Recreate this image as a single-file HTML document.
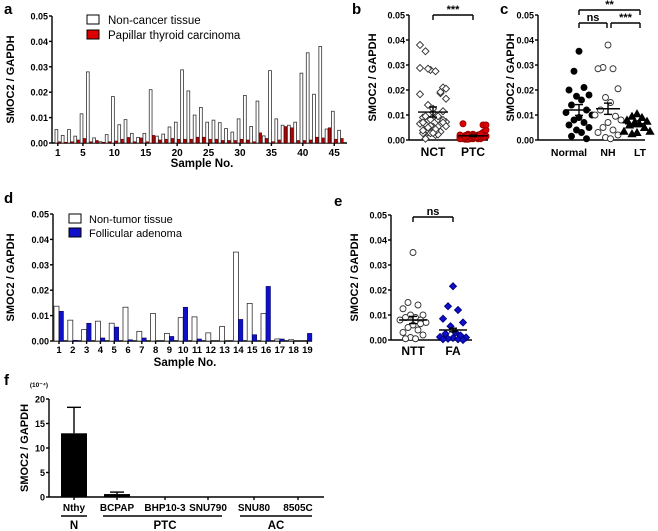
<!DOCTYPE html>
<html><head><meta charset="utf-8">
<style>
body{margin:0;background:#fff;}
svg{display:block;font-family:"Liberation Sans",Arial,sans-serif;font-weight:bold;}
</style></head>
<body>
<svg id="fig" width="658" height="531" viewBox="0 0 658 531" xmlns="http://www.w3.org/2000/svg"></svg>
<script>
// ---- data ----
const aNct=[.0053,.003,.0053,.0027,.0115,.028,.002,.0005,.0033,.0183,.0072,.0092,.0038,.0022,.0038,.021,.0027,.0035,.0063,.0082,.0288,.0205,.011,.014,.0082,.009,.008,.0057,.0043,.0095,.0187,.0065,.0165,.0028,.0285,.0095,.007,.007,.0082,.0275,.0355,.0192,.038,.0055,.0125,.005];
const aPtc=[.0005,.0003,.0005,.0012,.0018,.0005,.001,.0003,.0005,.0008,.0015,.0022,.0005,.002,.0005,.003,.0012,.0015,.0018,.0015,.0015,.0015,.0023,.0023,.0015,.0015,.001,.001,.001,.0015,.0012,.0005,.004,.0018,.0005,.0012,.0065,.006,.001,.001,.0012,.0023,.002,.006,.0015,.0018];
const aTicks=[1,5,10,15,20,25,30,35,40,45];
const yTicks=[0,0.01,0.02,0.03,0.04,0.05];
const cNormal=[.0355,.0275,.021,.02,.018,.0175,.016,.014,.012,.011,.01,.009,.008,.007,.006,.005,.004,.003,.0015,.0005];
const cNH=[.038,.029,.0285,.0285,.0205,.017,.015,.012,.0095,.01,.008,.007,.005,.004,.003,.002,.001,.0005];
const cLT=[.0105,.0095,.009,.008,.0075,.007,.0065,.006,.005,.0035,.0035,.003,.0025];
const cMeans=[.012,.0125,.0065];
const dNtt=[.0137,.0082,.0045,.0078,.007,.0133,.0038,.0108,.003,.0092,.0095,.0032,.0057,.035,.0148,.0108,.0008,.0005,0];
const dFa=[.0117,.0003,.007,.0012,.0055,.0005,.0012,0,.0018,.0133,.0008,0,0,.0085,.0025,.0215,.0008,0,.003];
const eNtt=[.035,.015,.014,.0125,.01,.01,.009,.009,.008,.008,.007,.006,.005,.004,.003,.002,.001,.0005,.0005,.0065];
const eFa=[.0215,.0135,.012,.0085,.007,.0055,.003,.0025,.0018,.0012,.001,.0008,.0005,.0003,.0003,0];
const eMeans=[.008,.004];
const fCats=["Nthy","BCPAP","BHP10-3","SNU790","SNU80","8505C"];
const fVals=[13,0.6,0,0,0,0];
const fErr=[5.3,0.4,0,0,0,0];
const fTicks=[0,5,10,15,20];

const S=document.getElementById('fig');
const NS="http://www.w3.org/2000/svg";
function el(t,a,txt){const e=document.createElementNS(NS,t);for(const k in a)e.setAttribute(k,a[k]);if(txt!==undefined)e.textContent=txt;S.appendChild(e);return e;}
function line(x1,y1,x2,y2,w){return el('line',{x1,y1,x2,y2,stroke:'#000','stroke-width':w||1.4});}
function txt(x,y,s,size,anchor,name){const t=el('text',{x,y,'font-size':size,'text-anchor':anchor||'middle'},s);return t;}
function yAxis(x,y0,y1,x2,ticks,max,fmt,title,tx){
  const sc=v=>y0-(v/max)*(y0-y1);
  line(x,y0,x,y1);line(x,y0,x2,y0);
  ticks.forEach(v=>{line(x-3,sc(v),x,sc(v));txt(x-4,sc(v)+3.5,fmt(v),9,'end','y-tick-label');});
  const t=el('text',{x:0,y:0,'font-size':11,'text-anchor':'middle',transform:`translate(${tx},${(y0+y1)/2}) rotate(-90)`},title);
  
  return sc;
}
function bracket(x1,x2,y,label){line(x1,y+5,x1,y);line(x1,y,x2,y);line(x2,y,x2,y+5);txt((x1+x2)/2,y-2,label,11,'middle','significance-label');}
const f2=v=>v.toFixed(2);

// ---- panel a ----
txt(4,14,'a',15,'start','panel-label-a');
{const sc=yAxis(52,143,16,347,yTicks,0.05,f2,'SMOC2 / GAPDH',14);
 const x0=55,step=(344-55)/aNct.length;
 aNct.forEach((v,i)=>{const r=el('rect',{x:x0+i*step,y:sc(v),width:2.8,height:143-sc(v),fill:'#fff',stroke:'#333','stroke-width':0.8});});
 aPtc.forEach((v,i)=>{const r=el('rect',{x:x0+i*step+3,y:sc(v),width:2.6,height:143-sc(v),fill:'#b00',stroke:'#400','stroke-width':0.5});});
 aTicks.forEach(t=>{const x=x0+(t-1)*step+2.8;line(x,143,x,146);txt(x,156,String(t),10,'middle','x-tick-label');});
 txt(202,167,'Sample No.',11.5,'middle','x-axis-title');
 const l1=el('rect',{x:87,y:15,width:12,height:9,fill:'#fff',stroke:'#000'});
 const t1=txt(108,24,'Non-cancer tissue',11.5,'start','legend-entry');t1.setAttribute('font-weight','normal');
 const l2=el('rect',{x:87,y:30,width:12,height:9,fill:'#d00',stroke:'#000'});
 const t2=txt(108,39,'Papillar thyroid carcinoma',11.5,'start','legend-entry');t2.setAttribute('font-weight','normal');
}
function jit(i){return [0,-5,5,-10,10,-2.5,2.5,-7.5,7.5,-13,13][i%11];}
function dots(arr,cx,sc,shape,fill,stroke,name){arr.forEach((v,i)=>{const x=cx+jit(i),y=sc(v);let e;
 if(shape==='c')e=el('circle',{cx:x,cy:y,r:3,fill,stroke,'stroke-width':0.9});
 else if(shape==='d')e=el('polygon',{points:`${x},${y-3.5} ${x+3.5},${y} ${x},${y+3.5} ${x-3.5},${y}`,fill,stroke,'stroke-width':0.9});
 else e=el('polygon',{points:`${x},${y-3.6} ${x+3.8},${y+3} ${x-3.8},${y+3}`,fill,stroke});
 });}
function meanBar(cx,sc,m,w){line(cx-w,sc(m),cx+w,sc(m));line(cx,sc(m*1.18),cx,sc(m*0.82));line(cx-4,sc(m*1.18),cx+4,sc(m*1.18));line(cx-4,sc(m*0.82),cx+4,sc(m*0.82));}
function mean(a){return a.reduce((s,v)=>s+v,0)/a.length;}
// ---- panel b ----
txt(352,14,'b',15,'start','panel-label-b');
{const sc=yAxis(409,140,15,488,yTicks,0.05,f2,'SMOC2 / GAPDH',376);
 dots(aNct,433,sc,'d','#fff','#333','point-nct');
 dots(aPtc,473,sc,'c','#d00','#900','point-ptc');
 meanBar(433,sc,mean(aNct),15);meanBar(473,sc,mean(aPtc),15);
 txt(433,156,'NCT',12,'middle','x-tick-label');txt(473,156,'PTC',12,'middle','x-tick-label');
 bracket(433,473,15,'***');}
// ---- panel c ----
txt(500,14,'c',15,'start','panel-label-c');
{const sc=yAxis(538,140,15,645,yTicks,0.05,f2,'SMOC2 / GAPDH',514);
 dots(cNormal,579,sc,'c','#000','#000','point-normal');
 dots(cNH,608,sc,'c','#fff','#333','point-nh');
 dots(cLT,637,sc,'t','#000','#000','point-lt');
 meanBar(579,sc,cMeans[0],12);meanBar(608,sc,cMeans[1],12);meanBar(637,sc,cMeans[2],12);
 txt(569,156,'Normal',10.5,'middle','x-tick-label');txt(608,156,'NH',10.5,'middle','x-tick-label');txt(640,156,'LT',10.5,'middle','x-tick-label');
 bracket(579,640,10,'**');bracket(579,607,23,'ns');bracket(611,640,23,'***');}
// ---- panel d ----
txt(4,203,'d',15,'start','panel-label-d');
{const sc=yAxis(53,341,214,312,yTicks,0.05,f2,'SMOC2 / GAPDH',14);
 const step=13.8,x0=59;
 dNtt.forEach((v,i)=>{const r=el('rect',{x:x0+i*step-5,y:sc(v),width:5,height:341-sc(v),fill:'#fff',stroke:'#333','stroke-width':0.8});});
 dFa.forEach((v,i)=>{const r=el('rect',{x:x0+i*step,y:sc(v),width:4.5,height:341-sc(v),fill:'#1010c8',stroke:'#000050','stroke-width':0.5});});
 dNtt.forEach((v,i)=>{const x=x0+i*step;line(x,341,x,344);txt(x,353,String(i+1),9.5,'middle','x-tick-label');});
 txt(185,366,'Sample No.',11.5,'middle','x-axis-title');
 const l1=el('rect',{x:69,y:214,width:12,height:9,fill:'#fff',stroke:'#000'});
 const t1=txt(89,223,'Non-tumor tissue',11,'start','legend-entry');t1.setAttribute('font-weight','normal');
 const l2=el('rect',{x:69,y:228,width:12,height:9,fill:'#1010c8',stroke:'#000'});
 const t2=txt(89,237,'Follicular adenoma',11,'start','legend-entry');t2.setAttribute('font-weight','normal');}
// ---- panel e ----
txt(334,206,'e',15,'start','panel-label-e');
{const sc=yAxis(391,340,215,472,yTicks,0.05,f2,'SMOC2 / GAPDH',358);
 dots(eNtt,413,sc,'c','#fff','#333','point-ntt');
 dots(eFa,453,sc,'d','#1010c8','#000080','point-fa');
 meanBar(413,sc,eMeans[0],14);meanBar(453,sc,eMeans[1],14);
 txt(413,355,'NTT',12,'middle','x-tick-label');txt(453,355,'FA',12,'middle','x-tick-label');
 bracket(413,453,217,'ns');}
// ---- panel f ----
txt(4,385,'f',15,'start','panel-label-f');
txt(39,387,'(10⁻⁴)',6.5,'middle','y-unit-label');
{const sc=yAxis(49,497,399,324,fTicks,20,v=>String(v),'SMOC2 / GAPDH',28);
 const xs=[74,117,165,208,254,298];
 fCats.forEach((c,i)=>{const x=xs[i],v=fVals[i];
  if(v>0){const r=el('rect',{x:x-13,y:sc(v),width:26,height:497-sc(v),fill:'#000'});
   line(x,sc(v),x,sc(v+fErr[i]));line(x-7,sc(v+fErr[i]),x+7,sc(v+fErr[i]));}
  line(x,497,x,500);txt(x,511,c,10,'middle','x-tick-label');});
 line(61,516,87,516);line(103,516,222,516);line(240,516,312,516);
 txt(74,529,'N',11.5,'middle','group-label');txt(165,529,'PTC',11.5,'middle','group-label');txt(276,529,'AC',11.5,'middle','group-label');}
</script>
</body></html>
